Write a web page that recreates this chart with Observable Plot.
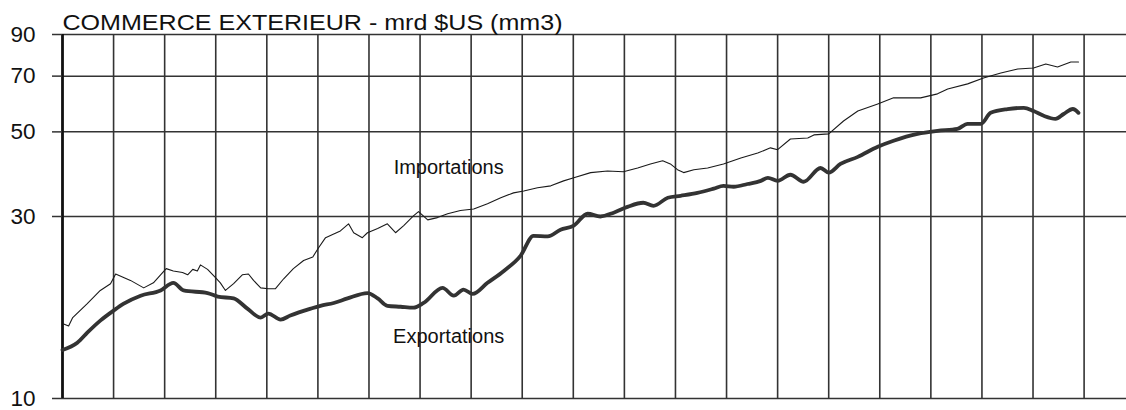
<!DOCTYPE html>
<html><head><meta charset="utf-8">
<script src="https://cdn.jsdelivr.net/npm/d3@7"></script>
<script src="https://cdn.jsdelivr.net/npm/@observablehq/plot@0.6"></script>
<style>body{margin:0;background:#fff} svg{display:block}</style>
</head><body><div id="chart"></div>
<script>
const title = "COMMERCE EXTERIEUR - mrd $US (mm3)";
// time in years from start of chart (one vertical gridline per year)
const impT = [0.01,0.12,0.20,0.48,0.74,0.94,1.04,1.33,1.59,1.78,2.03,2.17,2.35,2.45,2.55,2.64,2.70,2.84,3.00,3.09,3.19,3.35,3.52,3.64,3.74,3.88,4.03,4.17,4.33,4.52,4.72,4.90,5.01,5.15,5.31,5.44,5.60,5.70,5.87,5.97,6.17,6.36,6.52,6.68,6.87,6.97,7.15,7.34,7.54,7.79,8.05,8.32,8.58,8.83,9.03,9.30,9.56,9.81,10.01,10.34,10.67,10.98,11.26,11.51,11.75,11.90,12.04,12.16,12.36,12.63,12.94,13.28,13.61,13.86,14.00,14.25,14.59,14.71,15.00,15.29,15.57,15.96,16.27,16.80,17.13,17.33,17.72,18.03,18.37,18.70,19.01,19.25,19.48,19.74,19.89];
const impV = [15.7,15.5,16.3,17.7,19.2,20.0,21.2,20.4,19.5,20.1,21.9,21.6,21.4,21.1,21.8,21.6,22.4,21.8,20.7,20.1,19.2,20.0,21.1,21.2,20.4,19.5,19.4,19.4,20.6,21.9,23.0,23.5,24.8,26.4,27.0,27.5,28.7,27.2,26.4,27.2,27.9,28.7,27.2,28.4,30.1,30.9,29.4,29.8,30.5,31.1,31.4,32.4,33.6,34.6,35.0,35.7,36.1,37.2,37.9,39.1,39.5,39.3,40.2,41.2,42.0,41.2,39.8,39.1,39.8,40.2,41.2,42.7,44.0,45.4,44.9,47.9,48.2,49.1,49.4,53.4,56.7,59.2,61.4,61.4,62.9,64.8,66.8,69.2,71.3,73.1,73.5,75.3,74.0,76.2,76.2];
const expT = [0.00,0.29,0.49,0.74,1.00,1.19,1.53,1.92,2.17,2.37,2.84,3.04,3.35,3.62,3.88,4.03,4.27,4.46,4.86,5.05,5.31,5.58,5.97,6.17,6.36,6.62,6.87,7.07,7.44,7.66,7.85,8.03,8.32,8.64,8.97,9.22,9.50,9.75,10.01,10.28,10.53,10.79,11.06,11.37,11.57,11.85,12.10,12.43,12.75,12.94,13.14,13.41,13.67,13.81,14.00,14.25,14.51,14.84,15.00,15.23,15.57,15.96,16.27,16.74,17.13,17.52,17.72,17.98,18.17,18.50,18.82,19.01,19.21,19.44,19.60,19.78,19.89];
const expV = [13.4,14.0,14.9,16.0,17.0,17.7,18.6,19.2,20.1,19.2,18.9,18.5,18.3,17.2,16.3,16.7,16.1,16.5,17.2,17.5,17.8,18.3,18.9,18.3,17.5,17.4,17.3,17.8,19.5,18.6,19.3,18.8,20.1,21.6,23.7,26.7,26.6,27.7,28.4,30.5,30.0,30.7,31.8,32.6,32.0,33.6,34.0,34.6,35.5,36.1,35.9,36.5,37.2,37.9,37.2,38.6,37.0,40.2,39.1,41.2,43.0,45.7,47.4,49.4,50.3,50.9,52.5,52.5,56.1,57.4,57.8,56.7,55.1,54.1,55.7,57.4,56.1];
const yTicks = [10, 30, 50, 70, 90];
const yearGrid = d3.range(0, 21);
const labelNames = ["Importations", "Exportations"];
const labelT = [7.56, 7.56];
const labelV = [40.3, 14.5];

const imp = impT.map((t, i) => ({t, v: impV[i]}));
const exp = expT.map((t, i) => ({t, v: expV[i]}));
const labels = labelNames.map((name, i) => ({name, t: labelT[i], v: labelV[i]}));

const plot = Plot.plot({
  width: 1126, height: 410,
  marginTop: 34, marginBottom: 12, marginLeft: 62, marginRight: 0,
  style: {fontFamily: "'Liberation Sans', Arial, sans-serif", background: "#fff", color: "#111"},
  x: {domain: [0, 20.83], axis: null},
  y: {type: "log", domain: [10, 90], axis: null},
  marks: [
    Plot.ruleY(yTicks, {stroke: "#333", strokeWidth: 1.5}),
    Plot.ruleX(yearGrid.slice(1), {stroke: "#333", strokeWidth: 1.6}),
    Plot.ruleX([0], {stroke: "#111", strokeWidth: 2.8}),
    Plot.axisY(yTicks, {tickSize: 10, tickPadding: 17, fontSize: 22.5, tickFormat: d => String(d), stroke: "#333", strokeWidth: 1.5, label: null}),
    Plot.line(imp, {x: "t", y: "v", stroke: "#1a1a1a", strokeWidth: 1.1}),
    Plot.line(exp, {x: "t", y: "v", stroke: "#333", strokeWidth: 3.8, curve: "monotone-x"}),
    Plot.text(labels, {x: "t", y: "v", text: "name", fontSize: 20, fill: "#111"}),
    Plot.text([title], {frameAnchor: "top-left", textAnchor: "start", lineAnchor: "bottom", dy: -5, fontSize: 22, fill: "#111"})
  ]
});
d3.select(plot).selectAll("text").filter(function() { return this.textContent === title; })
  .attr("textLength", 500).attr("lengthAdjust", "spacingAndGlyphs");
document.getElementById("chart").appendChild(plot);
</script>
</body></html>
